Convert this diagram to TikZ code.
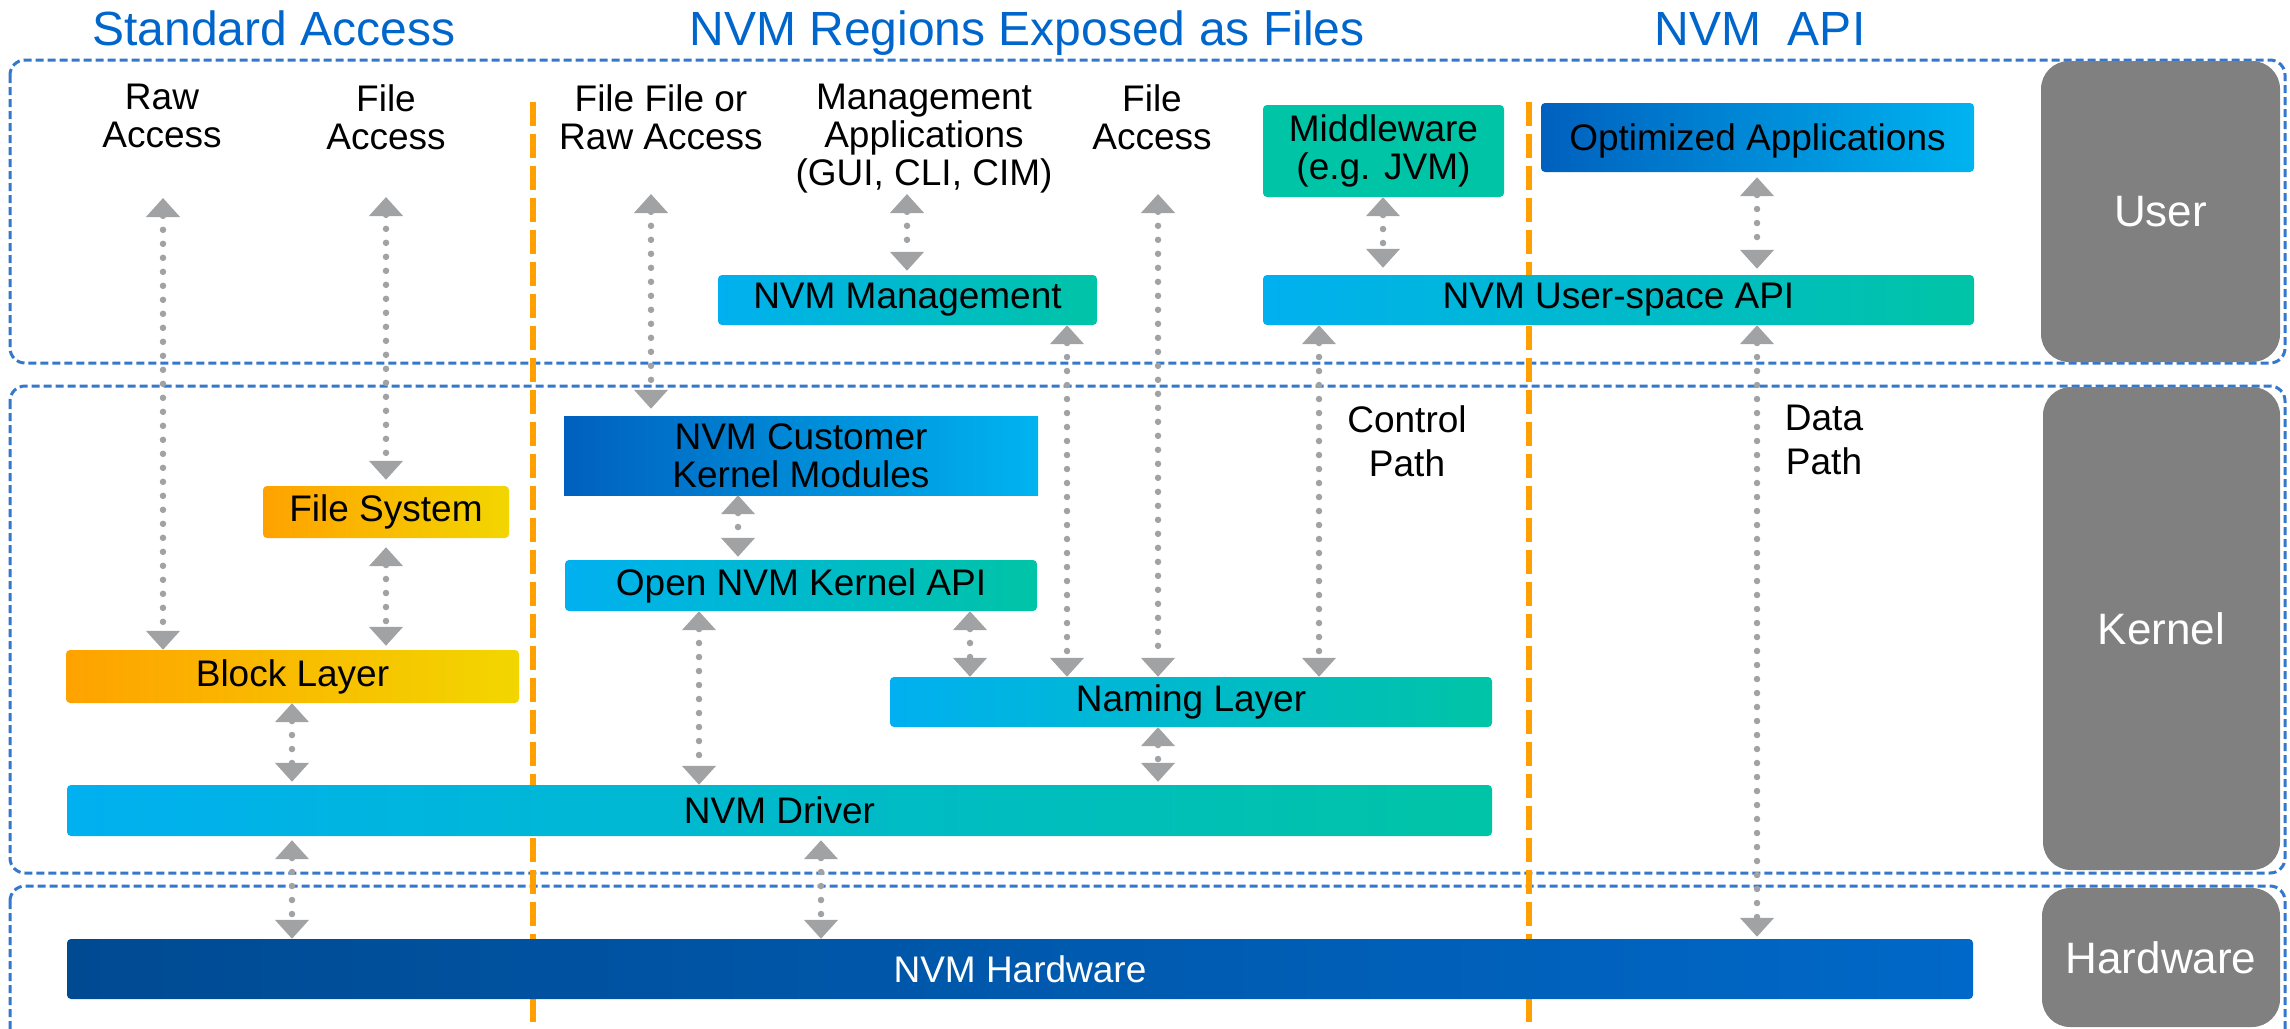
\documentclass[tikz,border=0pt]{standalone}
\usepackage{fontspec}
\setmainfont{Liberation Sans}
\usetikzlibrary{arrows.meta}
\definecolor{ttl}{HTML}{0066CC}
\definecolor{regb}{HTML}{3478CC}
\definecolor{orng}{HTML}{FFA000}
\definecolor{agray}{HTML}{A0A2A4}
\definecolor{lgray}{HTML}{808080}
\definecolor{cyn}{HTML}{00B0F0}
\definecolor{tel}{HTML}{00C4A6}
\definecolor{dblu}{HTML}{0060BE}
\definecolor{lblu}{HTML}{00B4F0}
\definecolor{org}{HTML}{FFA200}
\definecolor{yel}{HTML}{F2D600}
\definecolor{hwl}{HTML}{004A92}
\definecolor{hwr}{HTML}{0068C8}
\tikzset{
  region/.style={draw=regb, line width=3pt, dash pattern=on 8pt off 4pt, rounded corners=15pt},
  orl/.style={draw=orng, line width=6.5pt, dash pattern=on 24pt off 8pt},
  bx/.style={rounded corners=4pt, inner sep=0pt, align=center, font=\fontsize{37}{38}\selectfont},
  ct/.style={left color=cyn, right color=tel},
  db/.style={left color=dblu, right color=lblu},
  oy/.style={left color=org, right color=yel},
  lab/.style={fill=lgray, rounded corners=28pt, inner sep=0pt, text=white, font=\fontsize{44}{46}\selectfont},
  txt/.style={inner sep=0pt, align=center, anchor=north, font=\fontsize{37}{38}\selectfont},
  ttlnode/.style={inner sep=0pt, anchor=base, text=ttl, font=\fontsize{48}{52}\selectfont},
  dar/.style={draw=agray, line width=6.5pt, line cap=round, dash pattern=on 0pt off 14pt, <->, >={Triangle[width=33pt,length=19pt]}}
}
\begin{document}
\begin{tikzpicture}[x=1pt,y=-1pt]
\useasboundingbox (0,0) rectangle (2290,1028);
% region frames
\draw[region] (10,60) rectangle (2285,363);
\draw[region] (10,386) rectangle (2285,873);
\draw[region] (10,886) rectangle (2285,1070);
% side labels
\node[lab, minimum width=239pt, minimum height=301pt] (usr) at (2160.5,211.5) {User};
\node[lab, minimum width=237pt, minimum height=483pt] (krn) at (2161.5,628.5) {Kernel};
\node[lab, minimum width=238pt, minimum height=139pt] (hwl) at (2161,957.5) {Hardware};
% orange separators
\draw[orl] (533,102) -- (533,1022);
\draw[orl] (1529,102) -- (1529,1022);
% titles
\node[ttlnode] (t1) at (274,45) {Standard Access};
\node[ttlnode] (t2) at (1027,45) {NVM Regions Exposed as Files};
\node[ttlnode] (t3) at (1760,45) {NVM\ \ API};
% top texts
\node[txt] (rawtxt) at (162,84) {Raw\\Access};
\node[txt] (filetxt) at (386,84) {File\\Access};
\node[txt] (frtxt) at (661,84) {File File or\\Raw Access};
\node[txt] (mgtxt) at (924,84) {Management\\Applications\\(GUI, CLI, CIM)};
\node[txt] (fa2txt) at (1152,84) {File\\Access};
\node[txt, font=\fontsize{37}{44}\selectfont] (ctl) at (1407,405) {Control\\Path};
\node[txt, font=\fontsize{37}{44}\selectfont] (dat) at (1824,405) {Data\\Path};
% boxes
\node[bx, fill=tel, minimum width=241pt, minimum height=92pt] (mid) at (1383.5,151) {Middleware\\(e.g. JVM)};
\node[bx, db, text depth=0pt, minimum width=433pt, minimum height=69pt] (opt) at (1757.5,137.5) {Optimized Applications};
\node[bx, ct, minimum width=379pt, minimum height=50pt] (mgmt) at (907.5,300) {NVM Management};
\node[bx, ct, minimum width=711pt, minimum height=50pt] (api) at (1618.5,300) {NVM User-space API};
\node[bx, db, rounded corners=0pt, minimum width=474pt, minimum height=79pt] (cust) at (801,455.5) {NVM Customer\\Kernel Modules};
\node[bx, oy, minimum width=246pt, minimum height=52pt] (fs) at (386,512) {File System};
\node[bx, ct, minimum width=472pt, minimum height=51pt] (open) at (801,585.5) {Open NVM Kernel API};
\node[bx, oy, minimum width=453pt, minimum height=53pt] (blk) at (292.5,676.5) {Block Layer};
\node[bx, ct, minimum width=602pt, minimum height=50pt] (nam) at (1191,702) {Naming Layer};
\node[bx, ct, minimum width=1425pt, minimum height=51pt] (drv) at (779.5,810.5) {NVM Driver};
\node[bx, left color=hwl, right color=hwr, text=white, minimum width=1906pt, minimum height=60pt] (hw) at (1020,969) {NVM Hardware};
% arrow columns and free ends
\coordinate (p1) at (163,198);
\coordinate (p2) at (386,197);
\coordinate (p3) at (651,194);
\coordinate (p4) at (907,194);
\coordinate (p5) at (1158,194);
\coordinate (cB) at (386,0);
\coordinate (cE) at (1158,0);
\coordinate (cF) at (1383,0);
\coordinate (cG) at (1757,0);
\coordinate (cH) at (1067,0);
\coordinate (cI) at (1319,0);
\coordinate (cJ) at (738,0);
\coordinate (cK) at (699,0);
\coordinate (cL) at (970,0);
\coordinate (cM) at (292,0);
\coordinate (cN) at (821,0);
% connectors
\draw[dar] (p1) -- (p1 |- blk.north);
\draw[dar, shorten >=6pt] (p2) -- (p2 |- fs.north);
\draw[dar, shorten >=7pt] (p3) -- (p3 |- cust.north);
\draw[dar, shorten >=4pt] (p4) -- (p4 |- mgmt.north);
\draw[dar] (p5) -- (p5 |- nam.north);
\draw[dar, shorten >=7pt] (mid.south -| cF) -- (api.north -| cF);
\draw[dar, shorten <=5pt, shorten >=6pt] (opt.south -| cG) -- (api.north -| cG);
\draw[dar] (mgmt.south -| cH) -- (nam.north -| cH);
\draw[dar] (api.south -| cI) -- (nam.north -| cI);
\draw[dar, shorten >=2pt] (api.south -| cG) -- (hw.north -| cG);
\draw[dar, shorten <=9pt, shorten >=4pt] (fs.south -| cB) -- (blk.north -| cB);
\draw[dar, shorten >=3pt] (cust.south -| cJ) -- (open.north -| cJ);
\draw[dar] (open.south -| cK) -- (drv.north -| cK);
\draw[dar] (open.south -| cL) -- (nam.north -| cL);
\draw[dar, shorten >=3pt] (blk.south -| cM) -- (drv.north -| cM);
\draw[dar, shorten >=3pt] (nam.south -| cE) -- (drv.north -| cE);
\draw[dar, shorten <=4pt] (drv.south -| cM) -- (hw.north -| cM);
\draw[dar, shorten <=4pt] (drv.south -| cN) -- (hw.north -| cN);
\end{tikzpicture}
\end{document}
